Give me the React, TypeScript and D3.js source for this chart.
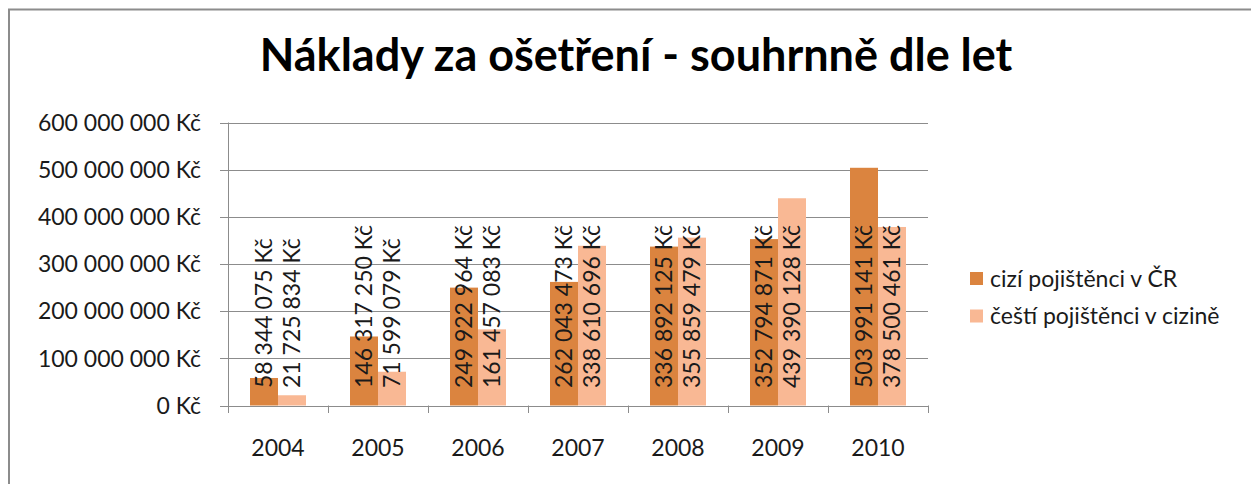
import React from "react";
import * as d3 from "d3";

const years = ["2004", "2005", "2006", "2007", "2008", "2009", "2010"];
const seriesNames = ["cizí pojištěnci v ČR", "čeští pojištěnci v cizině"];
const foreignInsured = [58344075, 146317250, 249922964, 262043473, 336892125, 352794871, 503991141];
const czechInsured = [21725834, 71599079, 161457083, 338610696, 355859479, 439390128, 378500461];
const yTicks = [0, 100000000, 200000000, 300000000, 400000000, 500000000, 600000000];
const title = "Náklady za ošetření - souhrnně dle let";

const colors = ["#DB843F", "#F9B894"];
const FONT = "Lato, 'Open Sans', sans-serif";

const locale = d3.formatLocale({ decimal: ",", thousands: " ", grouping: [3], currency: ["", " Kč"] });
const fmt = (v: number) => locale.format(",d")(v) + " Kč";

export default function App() {
  const W = 1251, H = 484;
  const x0 = 228, x1 = 928, yZero = 405.5, yTop = 122.5;
  const x = d3.scaleBand<string>().domain(years).range([x0, x1]).paddingInner(0.44).paddingOuter(0.22);
  const xs = d3.scaleBand<number>().domain([0, 1]).range([0, x.bandwidth()]);
  const y = d3.scaleLinear().domain([0, 600000000]).range([yZero, yTop]);
  const series = [foreignInsured, czechInsured];
  const step = x.step();
  const grid = "#8c8c8c";
  const txt = "#1a1a1a";

  return (
    <svg width={W} height={H} style={{ position: "absolute", left: 0, top: 0, background: "#fff" }} fontFamily={FONT}>
      <rect x={0} y={0} width={W} height={H} fill="#fff" />
      <rect x={9} y={9.5} width={W + 20} height={H + 20} fill="none" stroke={grid} strokeWidth={2} />
      <text x={636} y={71} textAnchor="middle" fontSize={45} fontWeight="bold" fill="#000">{title}</text>

      {yTicks.map((t) => (
        <g key={t}>
          <line x1={x0} x2={x1} y1={Math.round(y(t)) + 0.5} y2={Math.round(y(t)) + 0.5} stroke={grid} strokeWidth={1} />
          <line x1={220} x2={x0} y1={Math.round(y(t)) + 0.5} y2={Math.round(y(t)) + 0.5} stroke={grid} strokeWidth={1} />
          <text x={201} y={y(t)} dy="0.36em" textAnchor="end" fontSize={23} fill={txt}>{fmt(t)}</text>
        </g>
      ))}
      <line x1={x0 + 0.5} x2={x0 + 0.5} y1={yTop} y2={413} stroke={grid} strokeWidth={1} />
      {d3.range(years.length + 1).map((i) => (
        <line key={i} x1={x0 + i * step + 0.5} x2={x0 + i * step + 0.5} y1={yZero} y2={413} stroke={grid} strokeWidth={1} />
      ))}

      {years.map((yr, i) => (
        <g key={yr}>
          {series.map((s, j) => (
            <rect key={j} x={(x(yr) as number) + (xs(j) as number)} y={y(s[i])} width={xs.bandwidth()} height={yZero - y(s[i])} fill={colors[j]} />
          ))}
        </g>
      ))}
      {years.map((yr, i) => (
        <g key={yr + "l"}>
          {series.map((s, j) => {
            const cx = (x(yr) as number) + (xs(j) as number) + xs.bandwidth() / 2;
            return (
              <text key={j} transform={`translate(${cx},388) rotate(-90)`} dy="0.36em" textAnchor="start" fontSize={23} fill={txt}>{fmt(s[i])}</text>
            );
          })}
          <text x={(x(yr) as number) + x.bandwidth() / 2} y={456} textAnchor="middle" fontSize={23} fill={txt}>{yr}</text>
        </g>
      ))}

      {seriesNames.map((n, j) => (
        <g key={n} transform={`translate(970,${278.5 + j * 37.5})`}>
          <rect x={0} y={-6.5} width={13} height={13} fill={colors[j]} />
          <text x={20} y={0} dy="0.36em" fontSize={23} fill={txt}>{n}</text>
        </g>
      ))}
    </svg>
  );
}
